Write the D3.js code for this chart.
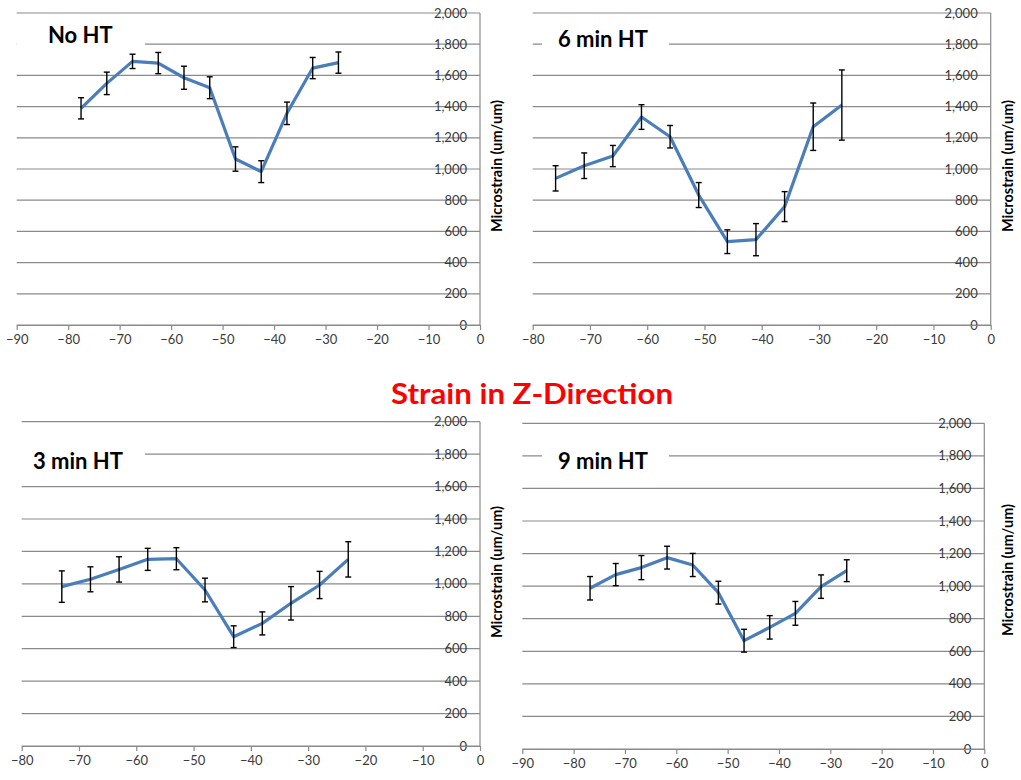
<!DOCTYPE html>
<html>
<head>
<meta charset="utf-8">
<script src="https://cdn.jsdelivr.net/npm/d3@7"></script>
<style>
  body { margin: 0; background: #fff; }
  svg { display: block; font-family: Lato, "Liberation Sans", sans-serif; }
</style>
</head>
<body>
<svg id="chart" width="1021" height="780"></svg>
<script>
// Data (position in um, microstrain, error bar half height)
const noHtX   = [-77.5, -72.5, -67.5, -62.5, -57.5, -52.5, -47.5, -42.5, -37.5, -32.5, -27.5];
const noHtY   = [1389, 1549, 1690, 1679, 1585, 1521, 1064, 983, 1357, 1647, 1682];
const noHtErr = [68, 72, 46, 68, 74, 70, 78, 70, 72, 68, 68];

const sixMinX   = [-76, -71, -66, -61, -56, -51, -46, -41, -36, -31, -26];
const sixMinY   = [940, 1021, 1083, 1333, 1207, 833, 534, 547, 759, 1271, 1410];
const sixMinErr = [81, 82, 68, 79, 72, 80, 76, 103, 96, 152, 225];

const threeMinX   = [-73, -68, -63, -58, -53, -48, -43, -38, -33, -28, -23];
const threeMinY   = [983, 1028, 1089, 1151, 1155, 962, 674, 756, 880, 993, 1151];
const threeMinErr = [97, 77, 78, 68, 68, 73, 67, 71, 103, 84, 109];

const nineMinX   = [-76.8, -71.8, -66.8, -61.8, -56.8, -51.8, -46.8, -41.8, -36.8, -31.8, -26.8];
const nineMinY   = [987, 1071, 1114, 1175, 1130, 960, 665, 747, 833, 997, 1095];
const nineMinErr = [72, 68, 74, 70, 71, 70, 70, 72, 73, 72, 67];

const yTicks = [0, 200, 400, 600, 800, 1000, 1200, 1400, 1600, 1800, 2000];
const yLabel = "Microstrain (um/um)";
const mainTitle = "Strain in Z-Direction";

const panels = [
  { title: "No HT",    xs: noHtX,     ys: noHtY,     errs: noHtErr,     xMin: -90,
    left: 16.7, right: 480, top: 13, bottom: 325, labelX: 497, labelY: 166,
    box: [17, 20, 128, 48], titleX: 48, titleY: 43 },
  { title: "6 min HT", xs: sixMinX,   ys: sixMinY,   errs: sixMinErr,   xMin: -80,
    left: 532.7, right: 990.7, top: 13, bottom: 325, labelX: 1008, labelY: 166,
    box: [542, 20, 127, 48], titleX: 558, titleY: 47 },
  { title: "3 min HT", xs: threeMinX, ys: threeMinY, errs: threeMinErr, xMin: -80,
    left: 21.7, right: 480, top: 421.7, bottom: 746, labelX: 497, labelY: 572,
    box: [20, 436, 125, 48], titleX: 33, titleY: 469 },
  { title: "9 min HT", xs: nineMinX,  ys: nineMinY,  errs: nineMinErr,  xMin: -90,
    left: 522.3, right: 984.3, top: 423.3, bottom: 749, labelX: 1008, labelY: 570,
    box: [542, 438, 127, 48], titleX: 558, titleY: 469 }
];

const svg = d3.select("#chart");
const gridColor = "#8a8a8a";

panels.forEach(p => {
  const x = d3.scaleLinear().domain([p.xMin, 0]).range([p.left, p.right]);
  const y = d3.scaleLinear().domain([0, 2000]).range([p.bottom, p.top]);
  const g = svg.append("g");

  // horizontal gridlines
  g.selectAll(".grid")
    .data(yTicks)
    .enter()
    .append("line")
    .attr("x1", p.left)
    .attr("x2", p.right)
    .attr("y1", d => y(d))
    .attr("y2", d => y(d))
    .style("stroke", gridColor)
    .style("stroke-width", 1.2);

  // y axis sits at x = 0 (right edge)
  g.append("line")
    .attr("x1", x(0)).attr("x2", x(0))
    .attr("y1", y(2000)).attr("y2", y(0))
    .style("stroke", gridColor)
    .style("stroke-width", 1.2);

  // y tick labels, drawn just inside the axis
  g.selectAll(".ylab")
    .data(yTicks)
    .enter()
    .append("text")
    .attr("x", x(0) - 13)
    .attr("y", d => y(d))
    .attr("dy", "0.35em")
    .style("text-anchor", "end")
    .style("font-size", "13px")
    .style("fill", "#3a3a3a")
    .text(d => d3.format(",")(d));

  // x axis with ticks pointing down
  const xAxis = d3.axisBottom(x)
    .tickValues(d3.range(p.xMin, 1, 10))
    .tickSize(5)
    .tickSizeOuter(0)
    .tickPadding(5)
    .tickFormat(d3.format("d"));
  const ax = g.append("g")
    .attr("transform", `translate(0,${p.bottom})`)
    .call(xAxis);
  ax.select(".domain").style("stroke", gridColor).style("stroke-width", 1.2);
  ax.selectAll(".tick line").style("stroke", gridColor).style("stroke-width", 1.2);
  ax.selectAll(".tick text")
    .style("font-size", "13px")
    .style("font-family", "Lato, 'Liberation Sans', sans-serif")
    .style("fill", "#3a3a3a");

  // title box hides the gridline behind it
  g.append("rect")
    .attr("x", p.box[0]).attr("y", p.box[1])
    .attr("width", p.box[2]).attr("height", p.box[3])
    .style("fill", "#fff");
  g.append("text")
    .attr("x", p.titleX)
    .attr("y", p.titleY)
    .style("font-size", "22px")
    .style("font-weight", "bold")
    .style("fill", "#000")
    .text(p.title);

  // axis title on the right
  g.append("text")
    .attr("transform", `translate(${p.labelX},${p.labelY}) rotate(-90)`)
    .attr("dy", "0.35em")
    .style("text-anchor", "middle")
    .style("font-size", "14.5px")
    .style("font-weight", "bold")
    .style("fill", "#000")
    .text(yLabel);

  const pts = p.xs.map((v, i) => ({ x: v, y: p.ys[i], e: p.errs[i] }));

  // line
  const line = d3.line().x(d => x(d.x)).y(d => y(d.y));
  g.append("path")
    .datum(pts)
    .attr("d", line)
    .style("fill", "none")
    .style("stroke", "#4a7ebb")
    .style("stroke-width", 3.2)
    .style("stroke-linejoin", "round");

  // error bars
  const eb = g.selectAll(".err").data(pts).enter().append("g");
  eb.append("line")
    .attr("x1", d => x(d.x)).attr("x2", d => x(d.x))
    .attr("y1", d => y(d.y + d.e)).attr("y2", d => y(d.y - d.e))
    .style("stroke", "#000").style("stroke-width", 1.4);
  [1, -1].forEach(s => {
    eb.append("line")
      .attr("x1", d => x(d.x) - 3).attr("x2", d => x(d.x) + 3)
      .attr("y1", d => y(d.y + s * d.e)).attr("y2", d => y(d.y + s * d.e))
      .style("stroke", "#000").style("stroke-width", 1.4);
  });
});

// main title
svg.append("text")
  .attr("x", 532)
  .attr("y", 404)
  .attr("textLength", 282)
  .attr("lengthAdjust", "spacingAndGlyphs")
  .style("text-anchor", "middle")
  .style("font-size", "29px")
  .style("font-weight", "bold")
  .style("fill", "#ff0000")
  .text(mainTitle);
</script>
</body>
</html>
